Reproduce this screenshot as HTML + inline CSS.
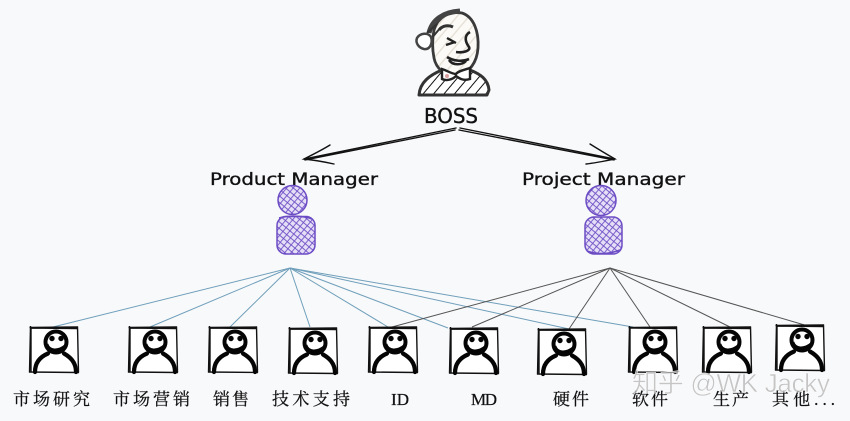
<!DOCTYPE html>
<html><head><meta charset="utf-8"><style>
html,body{margin:0;padding:0;background:#f8f9fb}
svg{display:block}
.h{font-family:"DejaVu Sans","Liberation Sans",sans-serif;fill:#111;stroke:#111;stroke-width:.35}
.c{font-family:"Liberation Serif","Noto Serif CJK SC",serif;font-size:17px;fill:#111;stroke:#111;stroke-width:.25}
</style></head><body>
<svg width="850" height="421" viewBox="0 0 850 421" xmlns="http://www.w3.org/2000/svg">
<defs>
<pattern id="cross" width="5" height="5" patternUnits="userSpaceOnUse" patternTransform="rotate(40)">
<rect width="5" height="5" fill="#e4def6"/>
<path d="M0 0H5M0 0V5" stroke="#6c4cc4" stroke-width="1.700"/>
</pattern>
<pattern id="hatchHead" width="9" height="9" patternUnits="userSpaceOnUse" patternTransform="rotate(40)">
<rect width="9" height="9" fill="#fbfaf6"/>
<path d="M0 0V9" stroke="#e6e2d8" stroke-width="3"/>
</pattern>
<pattern id="hatchBody" width="8" height="8" patternUnits="userSpaceOnUse" patternTransform="rotate(40)">
<rect width="8" height="8" fill="#fff"/>
<path d="M0 0V8" stroke="#111" stroke-width="2"/>
</pattern>
<g id="p">
<rect x="0" y="0" width="48" height="45" fill="#fff"/>
<path d="M-.5 .5L48 0M.5 -1L-.5 45.500M47.500 -.5L48.500 45.500M-1 45L49 45.500M1 1L47 1.500M1 1L1 45" fill="none" stroke="#111" stroke-width="1.400"/>
<circle cx="26" cy="15" r="10.500" fill="#fff" stroke="#050505" stroke-width="4"/>
<circle cx="22" cy="11.500" r="2.700" fill="#050505"/>
<circle cx="31" cy="11.500" r="2.700" fill="#050505"/>
<path d="M17 17C19 24 28 25 36 18" fill="none" stroke="#050505" stroke-width="2.600"/>
<path d="M5 45C5 34 12 29 18 26.500M34 26.500C40 30 46 35 46 45" fill="none" stroke="#050505" stroke-width="4.200" stroke-linecap="round"/>
</g>
</defs>
<rect width="850" height="421" fill="#f8f9fb"/>

<!-- Boss portrait -->
<path d="M419 95C420 82 430 75 442 70L470 70C480 74 488 79 489 90L487 95Z" fill="url(#hatchBody)" stroke="#333" stroke-width="3" stroke-linejoin="round"/>
<path d="M434 30C438 16 450 11 462 13C474 17 479 32 478 48C477 62 470 73 456 76C445 77 436 68 434 58C432 48 432 40 434 30Z" fill="url(#hatchHead)" stroke="#3a3a3a" stroke-width="2.800"/>
<path d="M429 33C432 20 443 12 460 11" fill="none" stroke="#444" stroke-width="5"/>
<path d="M427 33L437 24M431 39L441 27" stroke="#333" stroke-width="2"/>
<path d="M417 38C420 33 428 32 431 37C433 43 430 50 424 49C419 48 415 43 417 38Z" fill="#fff" stroke="#444" stroke-width="2.500"/>
<path d="M439 30C443 25 449 25 453 27" fill="none" stroke="#333" stroke-width="3"/>
<path d="M447 38L456 43M446 45L455 42" fill="none" stroke="#222" stroke-width="2.400"/>
<path d="M470 32C463 36 466 43 469 47C471 51 463 53 456 52" fill="none" stroke="#222" stroke-width="2.600"/>
<path d="M447 57C453 61 462 62 469 59M449 60C453 66 462 65 466 61" fill="none" stroke="#222" stroke-width="2.600"/>
<path d="M442 69C448 71 452 74 456 74C458 71 464 70 470 68L470 79C464 81 460 79 456 76C452 80 446 81 442 79Z" fill="#fff" stroke="#222" stroke-width="2.400"/>
<circle cx="447" cy="76" r="2" fill="#d9a0a0"/>

<text class="h" x="424" y="123" font-size="20" textLength="54" lengthAdjust="spacingAndGlyphs">BOSS</text>

<!-- Arrows -->
<g fill="none" stroke="#111" stroke-width="1.400" stroke-linecap="round">
<path d="M456 128L304 159M455 130L305 160"/>
<path d="M330 145C322 150 312 155 304 159C314 160 325 162 334 164"/>
<path d="M460 128L615 159M459 130L614 160"/>
<path d="M590 144C598 149 608 155 615 159C605 161 595 163 586 164"/>
</g>

<text class="h" x="210" y="185" font-size="17" textLength="168" lengthAdjust="spacingAndGlyphs">Product Manager</text>
<text class="h" x="522" y="185" font-size="17" textLength="163" lengthAdjust="spacingAndGlyphs">Project Manager</text>

<!-- Purple people -->
<g fill="url(#cross)" stroke="#6c4cc4" stroke-width="1.500">
<circle cx="292.500" cy="200" r="14.500"/>
<rect x="277" y="216.500" width="38" height="37.500" rx="9"/>
<path d="M279 218C290 215 305 216 312 219" fill="none"/>
<circle cx="601" cy="200.500" r="15"/>
<rect x="585" y="217" width="37" height="37" rx="9"/>
<path d="M587 251C598 255 610 254 620 250" fill="none"/>
</g>

<!-- Connectors -->
<g fill="none" stroke="#6f9fba" stroke-width="1">
<path d="M290 268L53 327"/>
<path d="M290 268L150 327"/>
<path d="M290 268L230 327"/>
<path d="M290 268L310 327"/>
<path d="M290 268L388 327"/>
<path d="M290 268L448 328"/>
<path d="M290 268L569 329"/>
<path d="M290 268L633 327"/>
</g>
<g fill="none" stroke="#555" stroke-width="1">
<path d="M610 268L392 327"/>
<path d="M610 268L472 327"/>
<path d="M610 268L569 329"/>
<path d="M610 268L650 327"/>
<path d="M610 268L730 327"/>
<path d="M610 268L808 326"/>
</g>

<!-- People -->
<use href="#p" x="30" y="327"/>
<use href="#p" x="129" y="327"/>
<use href="#p" x="209" y="327"/>
<use href="#p" x="289" y="328"/>
<use href="#p" x="369" y="327"/>
<use href="#p" x="450" y="328"/>
<use href="#p" x="538" y="329"/>
<use href="#p" x="629" y="327"/>
<use href="#p" x="703" y="327"/>
<use href="#p" x="776" y="325"/>

<!-- Labels -->
<text class="c" x="13" y="405" textLength="77">市场研究</text>
<text class="c" x="113" y="405" textLength="77">市场营销</text>
<text class="c" x="213" y="405" textLength="36">销售</text>
<text class="c" x="272" y="405" textLength="78">技术支持</text>
<text class="c" x="391" y="405" textLength="18">ID</text>
<text class="c" x="471" y="405" textLength="26">MD</text>
<text class="c" x="553" y="405" textLength="36">硬件</text>
<text class="c" x="632" y="405" textLength="36">软件</text>
<text class="c" x="713" y="405" textLength="36">生产</text>
<text class="c" x="772" y="405" textLength="63">其他...</text>

<!-- Watermark -->
<text x="632" y="392" font-size="26" textLength="198" font-family="'Liberation Sans','Noto Sans CJK SC',sans-serif" fill="#b8b8b8" fill-opacity=".8" stroke="#fff" stroke-width=".4">知乎 @WK Jacky</text>
</svg>
</body></html>
